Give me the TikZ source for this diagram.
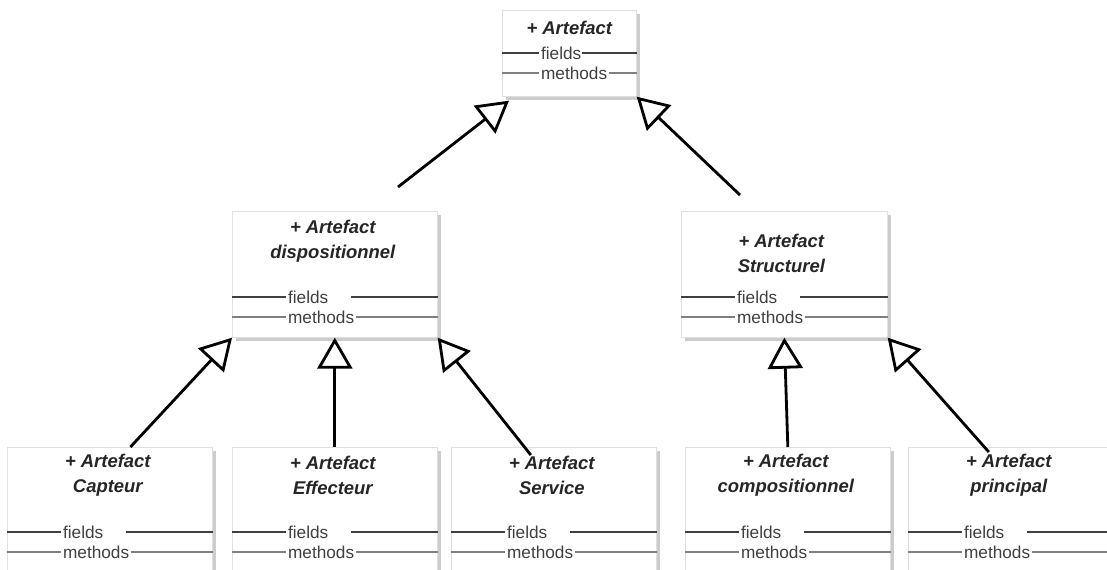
\documentclass[tikz,border=0pt]{standalone}
\usepackage{fontspec}
\setmainfont{Liberation Sans}
\usepackage{tikz}
\usetikzlibrary{arrows.meta,positioning,calc,shadows}

\begin{document}
\begin{tikzpicture}[
  x=0.02cm, y=-0.02cm,
  cls/.style={draw=gray!25, fill=white, anchor=north west, inner sep=0pt, minimum width=4.1cm, minimum height=2.52cm,
    drop shadow={shadow xshift=2pt, shadow yshift=-2pt, opacity=0.4}},
  ttl/.style={align=center, text=black!85, font=\fontsize{10.5}{14.2}\selectfont\bfseries\itshape},
  mem/.style={anchor=west, fill=white, inner sep=1pt, align=left, text=black!75, font=\fontsize{9.8}{11}\selectfont},
  fline/.style={draw=black!75, line width=1.1pt},
  mline/.style={draw=black!50, line width=1.3pt},
  inh/.style={-{Triangle[open, length=6.2mm, width=7mm]}, line width=1.6pt}
]
  \useasboundingbox (0,0) rectangle (1107,569);
  \clip (0,0) rectangle (1107,569);

  % classes
  \node[cls, minimum width=2.68cm, minimum height=1.72cm] (top) at (502,10) {};
  \node[cls] (disp) at (232,211) {};
  \node[cls, minimum width=4.12cm] (struct) at (681,211) {};
  \node[cls, minimum height=3cm] (capt) at (7,447) {};
  \node[cls, minimum height=3cm] (eff) at (232,447) {};
  \node[cls, minimum height=3cm] (serv) at (451,447) {};
  \node[cls, minimum height=3cm] (comp) at (685,447) {};
  \node[cls, minimum height=3cm] (princ) at (908,447) {};

  \node[ttl] (top-t) at ($(top.north)+(0,18)$) {+ Artefact};
  \node[ttl] (disp-t) at ($(disp.north)+(-2,30)$) {+ Artefact\\dispositionnel};
  \node[ttl] (struct-t) at ($(struct.north)+(-3,42)$) {+ Artefact\\Structurel};
  \node[ttl] (capt-t) at ($(capt.north)+(-2,28)$) {+ Artefact\\Capteur};
  \node[ttl] (eff-t) at ($(eff.north)+(-2,28)$) {+ Artefact\\Effecteur};
  \node[ttl] (serv-t) at ($(serv.north)+(-2,28)$) {+ Artefact\\Service};
  \node[ttl] (comp-t) at ($(comp.north)+(-2,28)$) {+ Artefact\\compositionnel};
  \node[ttl] (princ-t) at ($(princ.north)+(-2,28)$) {+ Artefact\\principal};

  % fields / methods compartments
  \foreach \b/\f/\o/\w in {top/43/37/0.79, disp/86/54/1.22, struct/86/54/1.22, capt/85/54/1.22,
      eff/85/54/1.22, serv/85/54/1.22, comp/85/54/1.22, princ/85/54/1.22} {
    \draw[fline] ($(\b.north west)+(0,\f)$) -- ($(\b.north east)+(0,\f)$);
    \node[mem, text width=\w cm] (\b-f) at ($(\b.north west)+(\o,\f)$) {fields};
    \draw[mline] ($(\b.north west)+(0,\f+20)$) -- ($(\b.north east)+(0,\f+20)$);
    \node[mem] (\b-m) at ($(\b.north west)+(\o,\f+20)$) {methods};
  }

  % generalisations
  \coordinate (dispup) at (398,187);
  \coordinate (structup) at (740,195);
  \draw[inh] (dispup) -- ($(top.south west)+(7,4)$);
  \draw[inh] (structup) -- (top.south east);
  \draw[inh] ($(capt.north west)!0.6!(capt.north east)$) -- (disp.south west);
  \draw[inh] (eff.north) -- (disp.south);
  \draw[inh] ($(serv.north)+(-23,8)$) -- (disp.south east);
  \draw[inh] (comp.north) -- (struct.south);
  \draw[inh] ($(princ.north)+(-22,5)$) -- (struct.south east);
\end{tikzpicture}
\end{document}
